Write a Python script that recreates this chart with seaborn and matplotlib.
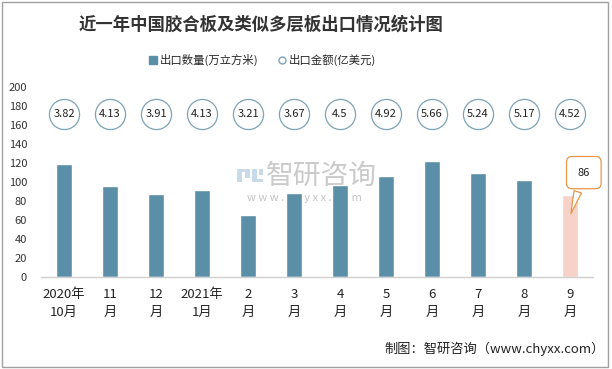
#!/usr/bin/env python3
"""
近一年中国胶合板及类似多层板出口情况统计图
"""

import pandas as pd
import matplotlib.pyplot as plt
import seaborn as sns
from matplotlib.lines import Line2D
from matplotlib.patches import Rectangle

sns.set_theme(style='white')
plt.rcParams['font.family'] = ['Noto Sans CJK SC', 'DejaVu Sans']

# 数据
months = ['2020年\n10月', '11\n月', '12\n月', '2021年\n1月', '2\n月', '3\n月',
          '4\n月', '5\n月', '6\n月', '7\n月', '8\n月', '9\n月']
quantity = [119, 96, 87, 92, 65, 89, 97, 106, 122, 110, 102, 86]   # 万立方米
amount = [3.82, 4.13, 3.91, 4.13, 3.21, 3.67, 4.5, 4.92, 5.66, 5.24, 5.17, 4.52]  # 亿美元
y_ticks = [0, 20, 40, 60, 80, 100, 120, 140, 160, 180, 200]

teal = '#5B8FA8'
pink = '#F7D2C9'
circle_edge = '#7DA3B8'
orange = '#E8974A'

df = pd.DataFrame({'month': months, 'quantity': quantity})
colors = [teal] * (len(months) - 1) + [pink]

fig = plt.figure(figsize=(6.12, 3.69), dpi=100)
ax = fig.add_axes([0.067, 0.249, 0.902, 0.515])

sns.barplot(data=df, x='month', y='quantity', hue='month', palette=colors,
            legend=False, width=0.33, saturation=1, ax=ax, zorder=2)

ax.set_ylim(0, 200)
ax.set_xlim(-0.5, len(months) - 0.5)
ax.set_yticks(y_ticks)
ax.set_yticklabels([str(v) for v in y_ticks], fontsize=8, color='#333333')
ax.tick_params(axis='both', length=0)
ax.tick_params(axis='y', pad=10)
ax.tick_params(axis='x', pad=8)
ax.set_xticks(range(len(months)))
ax.set_xticklabels(months, fontsize=9.5, color='#222222', linespacing=1.45)
ax.set_xlabel('')
ax.set_ylabel('')
for side in ['top', 'right', 'left']:
    ax.spines[side].set_visible(False)
ax.spines['bottom'].set_color('#D0D0D0')
ax.spines['bottom'].set_linewidth(1)

# 水印（在柱子后面）
ax.text(0.525, 0.523, '智研咨询', transform=fig.transFigure, ha='center',
        va='center', fontsize=20, color='#CACACA', zorder=0.5)
ax.text(0.498, 0.463, 'w w w . c h y x x . c o m', transform=fig.transFigure,
        ha='center', va='center', fontsize=8, color='#C4C4C4', zorder=0.5)
logo = [(0.388, 0.506, 0.008, 0.037), (0.388, 0.534, 0.02, 0.009),
        (0.400, 0.517, 0.008, 0.026), (0.412, 0.506, 0.008, 0.037),
        (0.412, 0.506, 0.018, 0.008), (0.424, 0.525, 0.006, 0.018)]
for lx, ly, lw, lh in logo:
    ax.add_patch(Rectangle((lx, ly), lw, lh, transform=fig.transFigure,
                           fc='#C9DAEA', ec='none', zorder=0.5, clip_on=False))

# 出口金额：圆圈标签
trans = ax.get_xaxis_transform()
ax.scatter(range(len(months)), [0.86] * len(months), transform=trans, s=470,
           facecolor='white', edgecolor=circle_edge, linewidth=0.9, zorder=3,
           clip_on=False)
for i, v in enumerate(amount):
    ax.text(i, 0.86, f'{v:g}', transform=trans, ha='center', va='center',
            fontsize=8, color='#222222', zorder=4)

# 最后一个月的标注
ax.annotate(str(quantity[-1]), xy=(len(months) - 1, quantity[-1] - 22),
            xytext=(len(months) - 1 + 0.3, 110), ha='center', va='center',
            fontsize=8, color='#222222',
            bbox=dict(boxstyle='round,pad=1.0,rounding_size=0.5', fc='white',
                      ec=orange, lw=0.9),
            arrowprops=dict(arrowstyle='wedge,tail_width=0.7,shrink_factor=0.5',
                            fc='white', ec=orange, lw=0.9),
            annotation_clip=False, zorder=5)

# 标题
fig.text(0.427, 0.932, '近一年中国胶合板及类似多层板出口情况统计图', ha='center',
         va='center', fontsize=12.5, fontweight='bold', color='#333333')

# 图例
handles = [Line2D([], [], marker='s', linestyle='', markersize=6,
                  markerfacecolor=teal, markeredgecolor=teal),
           Line2D([], [], marker='o', linestyle='', markersize=5,
                  markerfacecolor='white', markeredgecolor=circle_edge)]
fig.legend(handles, ['出口数量(万立方米)', '出口金额(亿美元)'], loc='center',
           bbox_to_anchor=(0.428, 0.838), ncol=2, frameon=False, fontsize=8.2,
           handletextpad=0.1, columnspacing=1.6, handlelength=1)

# 来源
fig.text(0.988, 0.054, '制图：智研咨询（www.chyxx.com）', ha='right', va='center',
         fontsize=9.5, color='#222222')

# 外框
fig.patches.append(Rectangle((0.004, 0.006), 0.99, 0.988, transform=fig.transFigure,
                             fill=False, ec='#A0A0A0', lw=1))

fig.savefig('out.png', dpi=100)
